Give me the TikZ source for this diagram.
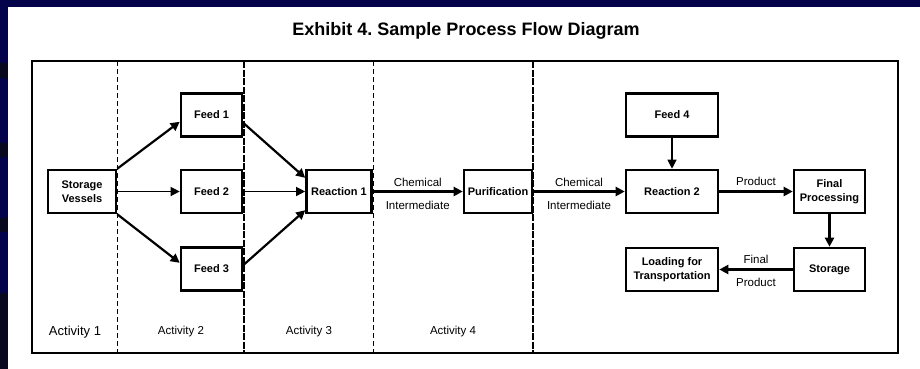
\documentclass[tikz,border=0pt]{standalone}
\usepackage{fontspec}
\setmainfont{Liberation Sans}
\usetikzlibrary{arrows.meta, positioning}
\definecolor{slidenavy}{RGB}{3,3,75}
\definecolor{slidedark}{RGB}{8,8,30}

\tikzset{
  procbox/.style={draw, line width=2.6pt, minimum height=43pt, inner sep=1pt,
    align=center, font=\fontsize{11}{14}\selectfont\bfseries},
  flow/.style={-{Triangle[length=9pt,width=9pt]}, line width=2.2pt},
  thinflow/.style={-{Triangle[length=9pt,width=9pt]}, line width=1.2pt},
  flowlabel/.style={font=\fontsize{11.5}{13}\selectfont},
  divider/.style={line width=0.8pt, dash pattern=on 5pt off 3pt},
  bolddivider/.style={line width=2pt, dash pattern=on 7pt off 1.5pt}
}

\begin{document}
\frenchspacing
\begin{tikzpicture}[x=1pt, y=-1pt]
    \useasboundingbox (0,0) rectangle (920,369);

    % Slide background
    \fill[slidenavy] (0,0) rectangle (920,369);
    \foreach \y/\h in {63/15, 143/14, 218/14, 293/76}
        \fill[slidedark] (0,\y) rectangle (8,\y+\h);
    \fill[white] (8,7) rectangle (920,369);

    % Title
    \node[font=\fontsize{18}{20}\selectfont\bfseries] (title) at (466,31)
        {Exhibit 4. Sample Process Flow Diagram};

    % Frame and activity columns
    \draw[line width=2pt] (32,61) rectangle (898,353);
    \foreach \x in {117,373}
        \draw[divider] (\x,61) -- (\x,353);
    \foreach \x in {244,533}
        \draw[bolddivider] (\x,61) -- (\x,353);

    % Process units
    \node[procbox, minimum width=68pt] (vessels) at (82,191.5) {Storage\\Vessels};
    \node[procbox, minimum width=61pt] (feedone) at (211.5,115) {Feed 1};
    \node[procbox, minimum width=61pt] (feedtwo) at (211.5,191.5) {Feed 2};
    \node[procbox, minimum width=61pt] (feedthree) at (211.5,269) {Feed 3};
    \node[procbox, minimum width=65pt] (reactone) at (339,191.5) {Reaction 1};
    \node[procbox, minimum width=68pt] (purif) at (498,191.5) {Purification};
    \node[procbox, minimum width=92pt] (feedfour) at (672,115) {Feed 4};
    \node[procbox, minimum width=92pt] (reacttwo) at (672,191.5) {Reaction 2};
    \node[procbox, minimum width=71pt] (finalproc) at (829.5,191.5) {Final\\Processing};
    \node[procbox, minimum width=71pt] (storage) at (829.5,269.5) {Storage};
    \node[procbox, minimum width=92pt] (loading) at (672,269.5) {Loading for\\Transportation};

    % Flows
    \draw[flow] (vessels.north east) -- (feedone.192);
    \draw[thinflow] (vessels) -- (feedtwo);
    \draw[flow] (vessels.south east) -- (feedthree.169);
    \draw[flow] (feedone.-14) -- (reactone.158);
    \draw[thinflow] (feedtwo) -- (reactone);
    \draw[flow] (feedthree.7) -- (reactone.209);
    \draw[flow] (reactone) -- node[flowlabel, above] {Chemical}
        node[flowlabel, below=5pt] {Intermediate} (purif);
    \draw[flow] (purif) -- node[flowlabel, above] {Chemical}
        node[flowlabel, below=5pt] {Intermediate} (reacttwo);
    \draw[thinflow] (feedfour) -- (reacttwo);
    \draw[flow] (reacttwo) -- node[flowlabel, above=1pt] {Product} (finalproc);
    \draw[flow] (finalproc) -- (storage);
    \draw[flow] (storage) -- node[flowlabel, above=1pt] {Final}
        node[flowlabel, below=4pt] {Product} (loading);

    % Activity labels
    \node[font=\fontsize{13}{15}\selectfont] (actone) at (75,332) {Activity 1};
    \node[flowlabel] (acttwo) at (181,332) {Activity 2};
    \node[flowlabel] (actthree) at (309,332) {Activity 3};
    \node[flowlabel] (actfour) at (453,332) {Activity 4};
\end{tikzpicture}
\end{document}
